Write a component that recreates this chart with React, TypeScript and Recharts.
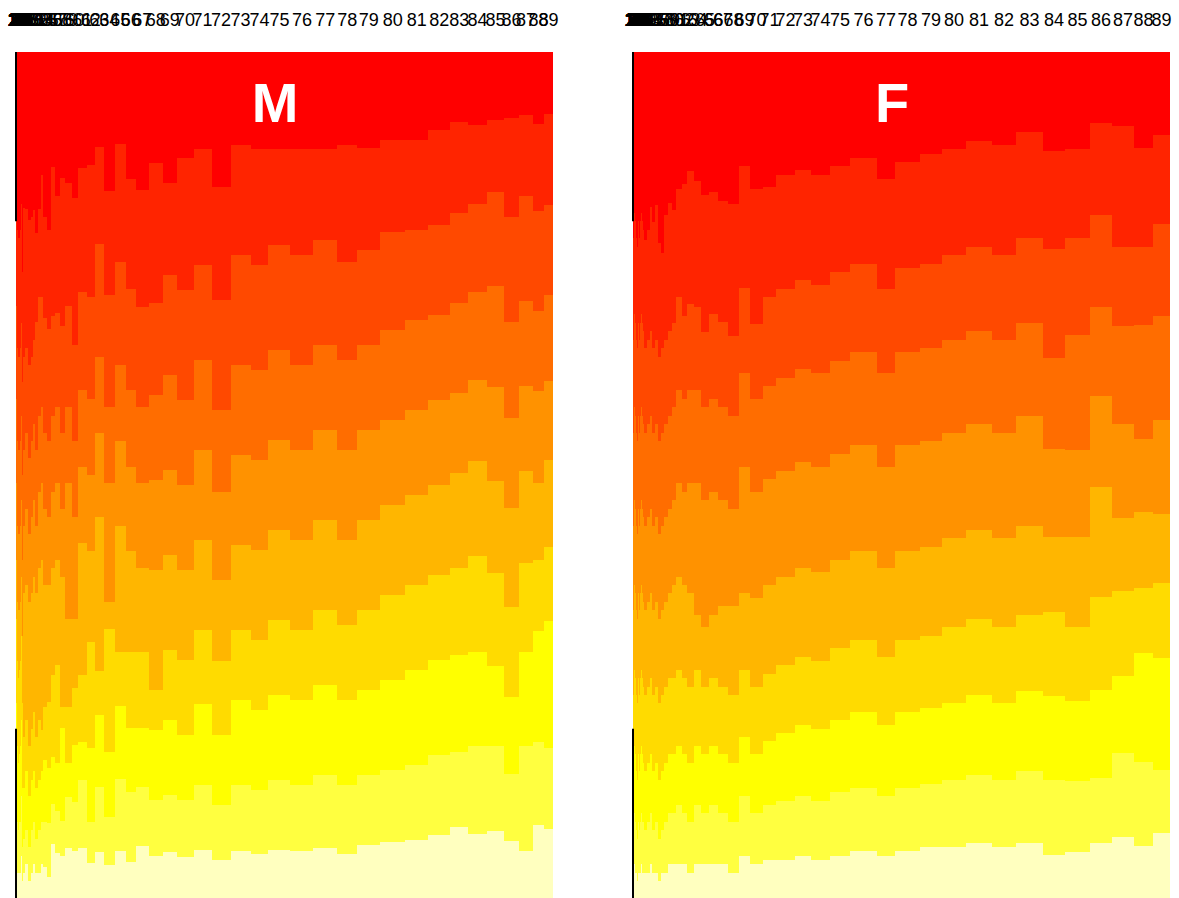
import { AreaChart, Area, XAxis, YAxis, ReferenceLine } from "recharts";

const FONT = "'Liberation Sans', Arial, Helvetica, sans-serif";

// ages 1..89, one spine per age
const ages = Array.from({ length: 89 }, (_, i) => i + 1);

// heat palette, top class first
const heat = ["#FF0000", "#FF2400", "#FF4900", "#FF6D00", "#FF9200", "#FFB600", "#FFDB00", "#FFFF00", "#FFFF40", "#FFFFBF"];

// ---- M: number of people per age (spine width)
const mCount = [
  1, 1, 1, 1, 1, 1, 1, 1, 1, 1, 1, 1, 1, 1, 1, 1, 1, 1, 1, 1, 1, 1, 1, 1, 1, 2, 1, 2, 1, 2, 2, 2, 2, 2, 2, 2, 2, 3, 2, 3, 2, 3, 3, 3, 3,
  20, 30, 30, 20, 20, 30, 30, 20, 40, 40, 40, 50, 50, 70, 60, 90, 80, 90, 110, 110,
  100, 130, 140, 140, 170, 180, 190, 200, 180, 220, 230, 240, 200, 230, 250, 230, 220, 180, 190, 170,
  150, 140, 110, 90,
];

// ---- M: cumulative % from the top at each class boundary
const mCut1 = [
  19, 21, 18, 22, 20, 17, 23, 19, 21, 20, 18, 22, 24, 19, 20, 21, 17, 23, 20, 22, 19, 21, 18, 20, 24, 22, 19, 21, 20, 23, 18, 22, 21, 19, 20, 24, 21, 19, 22, 20, 18, 23, 21, 26, 20,
  18.4, 18.5, 19.9, 19.5, 18.7, 21.4, 18.5, 14.5, 19.5, 21.0, 13.6, 17.0, 14.9, 15.5, 17.3, 13.7, 13.4, 11.2, 16.4, 10.9,
  15.0, 16.3, 13.1, 15.5, 12.5, 11.5, 16.0, 11.0, 11.5, 11.5, 11.5, 11.5, 11.0, 11.3, 10.4, 10.4, 9.2, 8.3, 8.6, 8.0,
  7.8, 7.4, 8.5, 7.3,
];
const mCut2 = [
  33, 35, 31, 36, 34, 30, 37, 33, 35, 34, 32, 36, 38, 33, 34, 35, 31, 37, 34, 36, 33, 35, 32, 34, 38, 36, 33, 35, 34, 37, 32, 36, 35, 33, 34, 38, 35, 33, 36, 34, 32, 37, 35, 39, 34,
  36, 35, 37, 36, 34, 31.9, 29.0, 29.0, 31.4, 32.7, 31.2, 30.9, 32.4, 30.0, 34.6, 28.4, 29.0, 22.7, 28.7, 24.8,
  28.0, 30.1, 29.7, 26.4, 28.1, 25.2, 29.3, 24.0, 25.2, 22.8, 24.0, 22.2, 24.8, 23.4, 21.3, 21.0, 20.4, 19.0, 18.0, 16.5,
  19.5, 17.0, 18.8, 18.1,
];
const mCut3 = [
  44, 46, 42, 47, 45, 41, 48, 44, 46, 45, 43, 47, 49, 44, 45, 46, 42, 48, 45, 47, 44, 46, 43, 45, 49, 47, 44, 46, 45, 48, 43, 47, 46, 44, 45, 49, 46, 44, 47, 45, 43, 48, 46, 50, 45,
  47, 45, 48, 46, 44, 47, 43, 42, 45, 46, 43, 42, 45, 42, 46, 40, 41, 36, 42, 37,
  40, 42, 40.5, 38.2, 41.1, 36.4, 42.3, 37.0, 37.6, 35.2, 37.0, 34.6, 36.4, 34.6, 32.9, 31.7, 31.1, 29.7, 28.4, 27.7,
  31.9, 29.4, 30.6, 28.7,
];
const mCut4 = [
  54, 56, 52, 57, 55, 51, 58, 54, 56, 55, 53, 57, 59, 54, 55, 56, 52, 58, 55, 57, 54, 56, 53, 55, 59, 57, 54, 56, 55, 58, 53, 57, 56, 54, 55, 59, 56, 54, 57, 55, 53, 58, 56, 60, 55,
  56, 54, 57, 55, 53, 56, 52, 51, 54, 55, 52, 51, 54, 51, 55, 49, 50, 45, 51, 46,
  49, 51, 50.6, 49.4, 51.2, 47.0, 52.0, 47.6, 48.2, 45.9, 47.0, 44.7, 47.0, 44.7, 43.5, 42.3, 41.1, 40.3, 38.8, 39.6,
  43.3, 39.5, 40.1, 38.9,
];
const mCut5 = [
  63, 65, 61, 66, 64, 60, 67, 63, 65, 64, 62, 66, 68, 63, 64, 65, 61, 67, 64, 66, 63, 65, 62, 64, 68, 66, 63, 65, 64, 67, 62, 66, 65, 63, 64, 68, 65, 63, 66, 64, 62, 67, 65, 69, 64,
  64, 63, 65, 64, 62, 64, 61, 60, 63, 63, 61, 60, 62, 67, 67, 58, 59, 55, 65, 56,
  59, 61, 61.2, 59.5, 61.2, 57.7, 62.4, 58.3, 58.9, 56.5, 57.7, 55.3, 57.7, 55.3, 53.5, 52.4, 51.2, 49.8, 48.3, 50.7,
  53.9, 49.5, 50.9, 48.2,
];
const mCut6 = [
  70, 73, 68, 74, 71, 67, 75, 70, 72, 71, 69, 74, 76, 70, 71, 72, 68, 75, 71, 73, 70, 72, 69, 71, 76, 74, 70, 72, 71, 75, 69, 73, 72, 70, 71, 76, 72, 70, 73, 71, 69, 75, 72, 77, 71,
  81, 79, 82, 80, 78, 81, 79, 80.1, 77.4, 76.8, 73.6, 72.5, 77.4, 77.4, 75.2, 73.6, 69.7, 73.2, 68.2, 70.9,
  70.9, 70.9, 75.4, 70.7, 71.9, 68.3, 72.0, 68.3, 69.5, 67.1, 68.3, 65.9, 67.7, 65.9, 64.2, 63.0, 61.8, 61.0, 59.6, 61.6,
  65.6, 60.4, 60.0, 58.5,
];
const mCut7 = [
  80, 83, 78, 84, 81, 77, 85, 80, 82, 81, 79, 84, 86, 80, 81, 82, 78, 85, 81, 83, 80, 82, 79, 81, 86, 84, 80, 82, 81, 85, 79, 83, 82, 80, 81, 86, 82, 80, 83, 81, 79, 85, 82, 87, 81,
  87, 85, 88, 86, 85, 87, 86, 85, 83.7, 84.6, 83.3, 84.0, 79.9, 84.0, 81.9, 81.6, 82.3, 78.4, 82.7, 77.3,
  79.9, 79.9, 80.1, 79.0, 80.7, 77.1, 80.7, 76.6, 77.8, 76.0, 76.6, 74.8, 76.6, 75.4, 74.2, 73.0, 71.9, 71.3, 70.9, 72.6,
  76.2, 70.9, 68.4, 67.3,
];
const mCut8 = [
  89, 91, 87, 92, 90, 86, 93, 89, 90, 90, 88, 92, 93, 89, 90, 91, 87, 92, 90, 91, 89, 90, 88, 90, 93, 92, 89, 90, 90, 92, 88, 91, 90, 89, 90, 93, 91, 89, 91, 90, 88, 92, 90, 94, 90,
  93, 92, 94, 92, 91, 93, 92, 91, 91.0, 91.1, 88.9, 89.7, 90.9, 88.1, 88.7, 86.1, 91.0, 86.9, 90.4, 85.9,
  87.5, 86.9, 88.4, 87.8, 88.4, 86.7, 89.0, 86.7, 87.2, 86.1, 86.7, 85.5, 86.7, 85.5, 84.9, 84.3, 83.1, 82.7, 82.0, 82.0,
  85.3, 82.0, 81.6, 82.3,
];
const mCut9 = [
  96, 97, 95, 98, 96, 94, 98, 96, 97, 96, 95, 97, 98, 96, 96, 97, 95, 98, 96, 97, 96, 97, 95, 96, 98, 97, 96, 97, 96, 98, 95, 97, 97, 96, 96, 98, 97, 96, 97, 96, 95, 98, 97, 98, 96,
  97, 96, 98, 97, 96, 97, 97, 96, 96.3, 97.5, 93.6, 94.7, 95.0, 94.1, 94.4, 94.1, 95.9, 94.6, 96.1, 94.4,
  95.7, 93.9, 95.0, 94.6, 95.2, 94.3, 95.5, 94.5, 94.8, 94.3, 94.5, 94.1, 94.8, 93.7, 93.4, 93.1, 92.6, 91.6, 92.4, 92.1,
  93.3, 94.4, 91.4, 91.8,
];

// ---- F: number of people per age
const fCount = [
  1, 1, 1, 1, 1, 1, 1, 1, 1, 1, 1, 1, 1, 1, 1, 2, 2, 2, 2, 2, 2, 2, 2, 2, 2, 2, 2, 2, 2, 2, 2, 2, 2, 2, 2, 3, 3, 3, 3, 3, 3, 3, 3, 3, 3, 5, 5, 5, 5, 5,
  30, 30, 20, 30, 30, 30, 30, 40, 40, 40, 60, 50, 70, 70, 80, 90, 100, 110, 110, 130,
  130, 190, 160, 190, 200, 270, 180, 250, 220, 240, 260, 240, 270, 220, 250, 220, 220, 190, 170,
];

// ---- F: cumulative % from the top at each class boundary
const fCut1 = [
  21, 19, 23, 18, 22, 20, 24, 19, 21, 22, 18, 23, 20, 25, 19, 21, 22, 18, 24, 20, 21, 19, 23, 20, 22, 18, 24, 21, 20, 23, 19, 22, 21, 25, 20, 18, 23, 21, 22, 19, 24, 20, 21, 23, 19, 22, 20, 24, 21, 22,
  22.2, 21.0, 18.3, 20.1, 18.1, 22.6, 23.8, 19.3, 17.8, 18.7, 16.2, 15.6, 14.1, 15.2, 16.9, 16.5, 17.6, 18.0, 13.5, 16.2,
  16.0, 14.5, 14.0, 14.5, 13.5, 12.5, 15.0, 13.0, 12.0, 11.5, 10.5, 11.0, 9.5, 11.7, 11.5, 8.4, 8.7, 11.3, 9.8,
];
const fCut2 = [
  33, 31, 35, 30, 34, 32, 36, 31, 33, 34, 30, 35, 32, 37, 31, 33, 34, 30, 36, 32, 33, 31, 35, 32, 34, 30, 36, 33, 32, 35, 31, 34, 33, 37, 32, 30, 35, 33, 34, 31, 36, 32, 33, 35, 31, 34, 32, 36, 33, 34,
  35, 34, 33, 35, 34, 36, 35, 34, 33, 32.0, 29.0, 31.2, 29.8, 30.1, 33.1, 31.0, 31.9, 33.6, 27.9, 32.1,
  29.0, 28.0, 27.0, 27.5, 26.0, 25.0, 28.0, 25.5, 25.0, 24.0, 23.0, 24.0, 22.0, 23.3, 22.0, 19.3, 23.0, 23.0, 20.3,
];
const fCut3 = [
  44, 42, 46, 41, 45, 43, 47, 42, 44, 45, 41, 46, 43, 48, 42, 44, 45, 41, 47, 43, 44, 42, 46, 43, 45, 41, 47, 44, 43, 46, 42, 45, 44, 48, 43, 41, 46, 44, 45, 42, 47, 43, 44, 46, 42, 45, 43, 47, 44, 45,
  45, 44, 43, 45, 44, 46, 45, 44, 43, 42, 40, 41, 40, 40, 42, 41, 42, 43, 38, 41,
  39.5, 38.5, 37.5, 38.0, 36.5, 35.5, 38.0, 35.5, 35.0, 34.0, 33.0, 34.0, 32.0, 36.2, 33.5, 30.1, 32.4, 32.3, 31.2,
];
const fCut4 = [
  55, 53, 57, 52, 56, 54, 58, 53, 55, 56, 52, 57, 54, 59, 53, 55, 56, 52, 58, 54, 55, 53, 57, 54, 56, 52, 58, 55, 54, 57, 53, 56, 55, 59, 54, 52, 57, 55, 56, 53, 58, 54, 55, 57, 53, 56, 54, 58, 55, 56,
  56, 55, 54, 56, 55, 57, 56, 55, 54, 53, 51, 52, 51, 51, 53, 52, 53, 54, 49, 52,
  50.5, 49.5, 48.5, 49.0, 47.5, 46.5, 49.0, 46.5, 46.0, 45.0, 44.0, 45.0, 43.0, 46.9, 47.0, 40.7, 44.0, 45.7, 43.5,
];
const fCut5 = [
  65, 63, 67, 62, 66, 64, 68, 63, 65, 66, 62, 67, 64, 69, 63, 65, 66, 62, 68, 64, 65, 63, 67, 64, 66, 62, 68, 65, 64, 67, 63, 66, 65, 69, 64, 62, 67, 65, 66, 63, 68, 64, 65, 67, 63, 66, 64, 68, 65, 66,
  66, 65, 64, 66, 65, 67, 66, 65, 64, 63, 62, 63, 64, 66.5, 68, 66.5, 65.5, 65.5, 64, 64.5,
  63.0, 62.0, 61.0, 61.5, 60.0, 59.0, 61.0, 59.0, 58.5, 57.5, 56.5, 57.5, 56.0, 57.3, 57.3, 51.4, 55.1, 54.4, 54.6,
];
const fCut6 = [
  75, 73, 77, 72, 76, 74, 78, 73, 75, 76, 72, 77, 74, 79, 73, 75, 76, 72, 78, 74, 75, 73, 77, 74, 76, 72, 78, 75, 74, 77, 73, 76, 75, 79, 74, 72, 77, 75, 76, 73, 78, 74, 75, 77, 73, 76, 74, 78, 75, 76,
  76, 75, 74, 76, 75, 77, 76, 75, 74, 74, 73, 74, 75, 73, 75, 74, 75, 76, 73, 75,
  73.5, 72.5, 71.5, 72.0, 70.5, 69.5, 71.5, 69.5, 69.0, 68.0, 67.0, 68.0, 66.5, 66.2, 68.0, 64.4, 63.7, 63.4, 62.8,
];
const fCut7 = [
  84, 82, 86, 81, 85, 83, 87, 82, 84, 85, 81, 86, 83, 88, 82, 84, 85, 81, 87, 83, 84, 82, 86, 83, 85, 81, 87, 84, 83, 86, 82, 85, 84, 88, 83, 81, 86, 84, 85, 82, 87, 83, 84, 86, 82, 85, 83, 87, 84, 85,
  85, 84, 83, 85, 84, 86, 85, 84, 83, 83, 82, 83, 84, 82, 83, 82, 83, 84, 81, 83,
  81.5, 80.5, 79.5, 80.0, 79.0, 78.0, 79.5, 78.0, 77.5, 77.0, 76.0, 77.0, 75.5, 76.1, 76.7, 75.4, 73.8, 71.0, 71.6,
];
const fCut8 = [
  91, 90, 93, 89, 92, 91, 94, 90, 91, 92, 89, 93, 91, 94, 90, 91, 92, 89, 93, 91, 91, 90, 93, 91, 92, 89, 94, 91, 91, 93, 90, 92, 91, 94, 91, 89, 93, 91, 92, 90, 94, 91, 91, 93, 90, 92, 91, 94, 91, 92,
  92, 91, 90, 92, 91, 93, 92, 91, 90, 90, 89, 90, 91, 89, 90, 89, 90, 91, 88, 90,
  89.0, 88.5, 88.0, 88.5, 87.5, 87.0, 88.0, 87.0, 86.5, 86.0, 85.5, 86.0, 85.0, 86.1, 86.2, 85.8, 82.9, 83.9, 84.9,
];
const fCut9 = [
  97, 96, 98, 96, 97, 97, 98, 96, 97, 97, 96, 98, 97, 98, 96, 97, 97, 96, 98, 97, 97, 96, 98, 97, 97, 96, 98, 97, 97, 98, 96, 97, 97, 98, 97, 96, 98, 97, 97, 96, 98, 97, 97, 98, 96, 97, 97, 98, 97, 97,
  97, 97, 96, 97, 97, 98, 97, 97, 96, 96, 96, 96, 97, 96, 96, 96, 96, 97, 95, 96,
  95.5, 95.5, 95.0, 95.5, 95.0, 94.5, 95.0, 94.5, 94.0, 94.0, 93.5, 94.0, 93.5, 94.9, 94.6, 93.5, 92.8, 93.9, 92.3,
];

const mCuts = [mCut1, mCut2, mCut3, mCut4, mCut5, mCut6, mCut7, mCut8, mCut9];
const fCuts = [fCut1, fCut2, fCut3, fCut4, fCut5, fCut6, fCut7, fCut8, fCut9];

const PLOT_W = 537;
const PLOT_H = 898;
const PAD = 24; // room for the crowded tick labels at both ends

// one row per age: x start of the spine, its width and the share of each class
function buildRows(counts: number[], cuts: number[][]) {
  let pos = 0;
  const rows = ages.map((age, i) => {
    const bounds = [0, ...cuts.map((c) => c[i]), 100];
    const row: Record<string, number> = { pos, age, n: counts[i] };
    heat.forEach((_, k) => {
      row[`s${k}`] = bounds[k + 1] - bounds[k];
    });
    pos += counts[i];
    return row;
  });
  // closing point so the last step runs to the right edge
  rows.push({ ...rows[rows.length - 1], pos });
  return rows;
}

function SpinePanel({ label, counts, cuts, left }: { label: string; counts: number[]; cuts: number[][]; left: number }) {
  const rows = buildRows(counts, cuts);
  const total = rows[rows.length - 1].pos;
  const centers = rows.slice(0, -1).map((r) => r.pos + r.n / 2);
  const ageAt = new Map(centers.map((c, i) => [c, ages[i]]));

  return (
    <div style={{ position: "absolute", left: left - PAD, top: 0, width: PLOT_W + 2 * PAD, height: PLOT_H }}>
      <AreaChart width={PLOT_W + 2 * PAD} height={PLOT_H} data={rows} margin={{ top: 0, right: PAD, bottom: 0, left: PAD }}>
        <XAxis
          type="number"
          dataKey="pos"
          orientation="top"
          domain={[0, total]}
          ticks={centers}
          interval={0}
          height={52}
          tickSize={0}
          tickMargin={26}
          axisLine={false}
          tickLine={false}
          tick={{ fontSize: 18, fill: "#000", fontFamily: FONT }}
          tickFormatter={(v: number) => String(ageAt.get(v) ?? "")}
        />
        <YAxis hide reversed domain={[0, 100]} width={0} />
        {heat.map((color, k) => (
          <Area
            key={k}
            type="stepAfter"
            dataKey={`s${k}`}
            stackId="classes"
            fill={color}
            fillOpacity={1}
            stroke="none"
            dot={false}
            activeDot={false}
            isAnimationActive={false}
          />
        ))}
        <ReferenceLine segment={[{ x: 0, y: 0 }, { x: 0, y: 20 }]} stroke="#000" strokeWidth={2} ifOverflow="visible" />
        <ReferenceLine segment={[{ x: 0, y: 80 }, { x: 0, y: 100 }]} stroke="#000" strokeWidth={2} ifOverflow="visible" />
      </AreaChart>
      <div
        style={{
          position: "absolute",
          left: PAD + 259,
          top: 75,
          transform: "translateX(-50%)",
          color: "#fff",
          fontFamily: FONT,
          fontWeight: 700,
          fontSize: 56,
          lineHeight: "56px",
          pointerEvents: "none",
        }}
      >
        {label}
      </div>
    </div>
  );
}

export default function App() {
  return (
    <div style={{ position: "fixed", left: 0, top: 0, width: 1179, height: 898, background: "#fff", overflow: "hidden" }}>
      <style>{".recharts-area-area{shape-rendering:crispEdges}"}</style>
      <SpinePanel label="M" counts={mCount} cuts={mCuts} left={16} />
      <SpinePanel label="F" counts={fCount} cuts={fCuts} left={633} />
    </div>
  );
}
